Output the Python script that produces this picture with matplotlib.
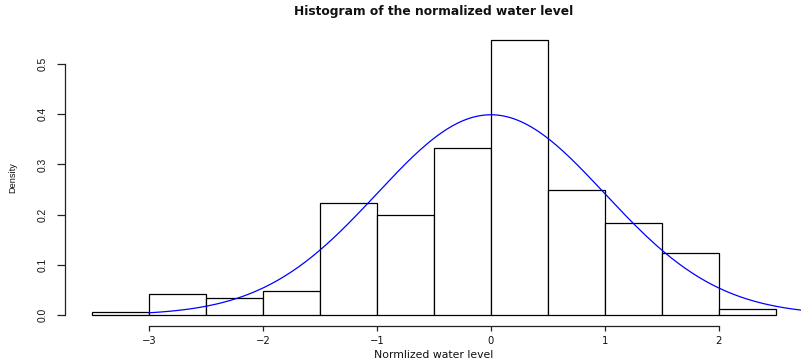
import numpy as np
import matplotlib
matplotlib.use("Agg")
import matplotlib.pyplot as plt

# Histogram of the normalized water level (density scale)
bin_edges = [-3.5, -3.0, -2.5, -2.0, -1.5, -1.0, -0.5, 0.0, 0.5, 1.0, 1.5, 2.0, 2.5]
densities = [0.005, 0.041, 0.033, 0.048, 0.223, 0.200, 0.333, 0.547, 0.249, 0.183, 0.123, 0.011]

x_ticks = [-3, -2, -1, 0, 1, 2]
x_tick_labels = ["\u22123", "\u22122", "\u22121", "0", "1", "2"]
y_ticks = [0.0, 0.1, 0.2, 0.3, 0.4, 0.5]
y_tick_labels = ["0.0", "0.1", "0.2", "0.3", "0.4", "0.5"]

# Reference standard normal density overlaid on the histogram
curve_mean, curve_sd = 0.0, 1.0
curve_from, curve_to = -3.0, 3.0

title = "Histogram of the normalized water level"
x_label = "Normlized water level"
y_label = "Density"

W, H = 801, 361
fig = plt.figure(figsize=(W / 100, H / 100), dpi=100)
fig.patch.set_facecolor("white")

# plot region in pixels: x from 65 to ~803, y from 29.4 (top) to 326 (bottom)
ax = fig.add_axes([65 / W, (H - 326) / H, (802.9 - 65) / W, (326 - 29.4) / H])
ax.set_xlim(-3.74, 2.74)
ax.set_ylim(-0.0219, 0.569)
ax.set_facecolor("white")

widths = np.diff(bin_edges)
ax.bar(bin_edges[:-1], densities, width=widths, align="edge",
       facecolor="white", edgecolor="black", linewidth=0.9)

xs = np.linspace(curve_from, curve_to, 400)
ys = np.exp(-0.5 * ((xs - curve_mean) / curve_sd) ** 2) / (curve_sd * np.sqrt(2 * np.pi))
ax.plot(xs, ys, color="#0000ff", linewidth=0.9)

# R-style detached axes
for side in ("top", "right"):
    ax.spines[side].set_visible(False)
ax.spines["left"].set_bounds(y_ticks[0], y_ticks[-1])
ax.spines["bottom"].set_bounds(x_ticks[0], x_ticks[-1])
for side in ("left", "bottom"):
    ax.spines[side].set_linewidth(0.9)
    ax.spines[side].set_color("#222222")

narrow = ["DejaVu Sans Condensed", "Liberation Sans"]

ax.set_xticks(x_ticks)
ax.set_xticklabels(x_tick_labels, fontfamily="DejaVu Sans", fontsize=7.2, color="#111111")
ax.tick_params(axis="x", direction="out", length=3.4, width=0.9, color="#222222", pad=3.5)

ax.set_yticks(y_ticks)
ax.set_yticklabels(y_tick_labels, rotation=90, va="center", fontfamily=narrow,
                   fontsize=7.4, color="#111111")
ax.tick_params(axis="y", direction="out", length=5.5, width=0.9, color="#222222", pad=7.0)

fig.text(434 / W, 1 - 12 / H, title, ha="center", va="center",
         fontfamily="DejaVu Sans", fontweight="bold", fontsize=8.8, color="#111111")
fig.text(434 / W, 1 - 355 / H, x_label, ha="center", va="center",
         fontfamily="DejaVu Sans", fontsize=7.85, color="#111111")
fig.text(13 / W, 1 - 178 / H, y_label, ha="center", va="center", rotation=90,
         fontfamily=narrow, fontsize=6.6, color="#111111")

fig.savefig("out.png", dpi=100, facecolor="white")
